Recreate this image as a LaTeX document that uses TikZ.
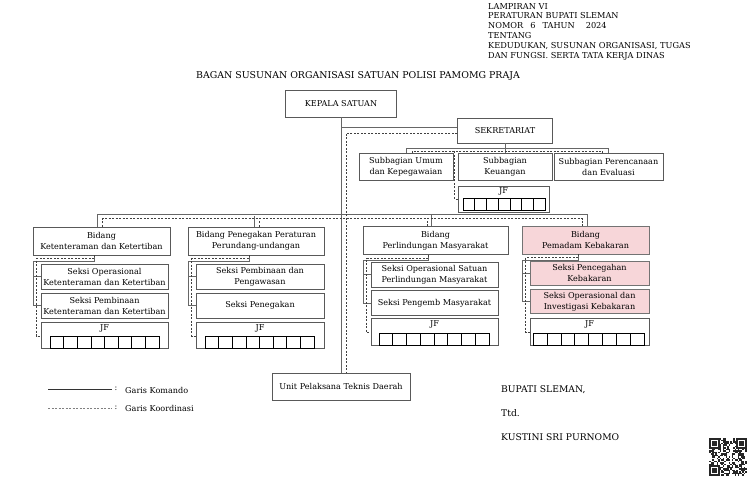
\documentclass[tikz,border=0pt]{standalone}
\usepackage{fontspec}
\setmainfont{DejaVu Serif}
\usetikzlibrary{calc}
\definecolor{pinkfill}{HTML}{F7D6D9}

\begin{document}
\begin{tikzpicture}[
        x=1pt, y=-1pt,
        every node/.style={font=\fontsize{8.1}{11}\selectfont, inner sep=1pt},
        box/.style 2 args={draw=black!65, fill=white, align=center, line width=.7pt,
            minimum width=#1, minimum height=#2},
        pink/.style 2 args={box={#1}{#2}, fill=pinkfill, draw=black!55},
        komando/.style={draw=black!60, line width=.8pt},
        koordinasi/.style={draw=black!75, dash pattern=on 2pt off 1.5pt, line width=.5pt},
        cell/.style={draw=black, line width=.6pt},
        ttdtext/.style={anchor=west, font=\fontsize{9.2}{11}\selectfont},
    ]
    \useasboundingbox (0,0) rectangle (756,487);

    % header
    \node[anchor=north west, align=left, font=\fontsize{8.2}{9.8}\selectfont] (lampiran) at (487,2)
        {LAMPIRAN VI\\PERATURAN BUPATI SLEMAN\\NOMOR\hspace{7pt}6\hspace{7pt}TAHUN\hspace{11pt}2024\\TENTANG\\
         KEDUDUKAN, SUSUNAN ORGANISASI, TUGAS\\DAN FUNGSI. SERTA TATA KERJA DINAS};
    \node[font=\fontsize{9.4}{10}\selectfont] (judul) at (358,76)
        {BAGAN SUSUNAN ORGANISASI SATUAN POLISI PAMOMG PRAJA};

    % top
    \node[box={111pt}{27pt}] (kepala) at (341,103.5) {KEPALA SATUAN};
    \node[box={95pt}{25pt}] (sekre) at (505,130.5) {SEKRETARIAT};
    \node[box={94pt}{27pt}] (sumum) at (406,166.5) {Subbagian Umum\\dan Kepegawaian};
    \node[box={94pt}{27pt}] (skeu) at (505,166.5) {Subbagian\\Keuangan};
    \node[box={109pt}{27pt}] (sren) at (608.5,166.5) {Subbagian Perencanaan\\dan Evaluasi};
    \node[box={91pt}{26pt}] (jfsek) at (503.5,199) {};
    \node (jfseklbl) at ($(jfsek.north)+(0,6)$) {JF};

    % bidang
    \node[box={137pt}{28pt}] (bid1) at (101.5,241) {Bidang\\Ketenteraman dan Ketertiban};
    \node[box={136pt}{28pt}] (bid2) at (256,241) {Bidang Penegakan Peraturan\\Perundang-undangan};
    \node[box={145pt}{28pt}] (bid3) at (435.5,240.5) {Bidang\\Perlindungan Masyarakat};
    \node[pink={127pt}{28pt}] (bid4) at (585.5,240) {Bidang\\Pemadam Kebakaran};

    % seksi
    \node[box={127pt}{25pt}] (s11) at (104.5,276.5) {Seksi Operasional\\Ketenteraman dan Ketertiban};
    \node[box={127pt}{25pt}] (s12) at (104.5,305.5) {Seksi Pembinaan\\Ketenteraman dan Ketertiban};
    \node[box={127pt}{26pt}] (jf1) at (104.5,335) {};
    \node[box={128pt}{25pt}] (s21) at (260,276.5) {Seksi Pembinaan dan\\Pengawasan};
    \node[box={128pt}{25pt}] (s22) at (260,305.5) {Seksi Penegakan};
    \node[box={128pt}{26pt}] (jf2) at (260,335) {};
    \node[box={127pt}{25pt}] (s31) at (434.5,274.5) {Seksi Operasional Satuan\\Perlindungan Masyarakat};
    \node[box={127pt}{25pt}] (s32) at (434.5,303) {Seksi Pengemb Masyarakat};
    \node[box={127pt}{27pt}] (jf3) at (434.5,331.5) {};
    \node[pink={119pt}{24pt}] (s41) at (589.5,273) {Seksi Pencegahan\\Kebakaran};
    \node[pink={119pt}{24pt}] (s42) at (589.5,301.5) {Seksi Operasional dan\\Investigasi Kebakaran};
    \node[box={119pt}{27pt}] (jf4) at (589.5,331.5) {};
    \foreach \j in {jf1,jf2,jf3,jf4}
        \node (\j lbl) at ($(\j.north)+(0,6.5)$) {JF};

    % JF cells
    \foreach \cx/\cy/\cw/\n in {50/336/13.6/7, 205/336/13.6/7, 379/333/13.75/7,
                                533/333/13.9/7, 463/198/11.7/6}
        \foreach \i in {0,...,\n}
            \draw[cell] (\cx+\i*\cw,\cy) rectangle ++(\cw,12);

    \node[box={138pt}{27pt}] (upt) at (341,386.5) {Unit Pelaksana Teknis Daerah};

    % garis komando
    \coordinate (sekbus) at (0,127);
    \coordinate (sekdash) at (0,133);
    \coordinate (subbus) at (0,148);
    \coordinate (subdash) at (0,151);
    \draw[komando] (kepala.south) -- (upt.north);
    \draw[komando] (kepala.south |- sekbus) -- (sekre.west |- sekbus);
    \draw[komando] (sekre.south) -- (skeu.north);
    \draw[komando] (sumum.north) -- (sumum.north |- subbus) -- (sren.north |- subbus) -- (sren.north);
    \draw[komando] ($(bid1.north)+(-4,0)$) |- ($(bid4.north)+(2,-11)$) -- ($(bid4.north)+(2,0)$);
    \draw[komando] ($(bid2.north)+(-2,0)$) -- ++(0,-11);
    \draw[komando] ($(bid3.north)+(-4,0)$) -- ++(0,-11);

    % garis koordinasi
    \draw[koordinasi] (sekre.west |- sekdash) -| ($(upt.north)+(5,0)$);
    \draw[koordinasi] ($(sumum.north)+(6,0)$) |- ($(sren.north |- subdash)+(-6,0)$) -- ($(sren.north)+(-6,0)$);
    \draw[koordinasi] (jfsek.west) -| ($(jfsek.west |- subdash)+(-3,0)$);
    \draw[koordinasi] ($(bid1.north)+(1,0)$) |- ($(bid4.north)+(-3,-7)$) -- ($(bid4.north)+(-3,0)$);
    \draw[koordinasi] ($(bid2.north)+(3,0)$) -- ++(0,-7);
    \draw[koordinasi] ($(bid3.north)+(-8,0)$) -- ++(0,-7);

    % bidang ke seksi
    \foreach \b/\s/\t/\j in {bid1/s11/s12/jf1, bid2/s21/s22/jf2, bid3/s31/s32/jf3, bid4/s41/s42/jf4} {
        \draw[komando] ($(\b.south)+(-7,0)$) -- ++(0,6) -| ($(\t.west)+(-7,0)$) -- (\t.west);
        \draw[komando] ($(\s.west)+(-7,0)$) -- (\s.west);
        \draw[koordinasi] ($(\b.south)+(-7,0)$) -- ++(0,3) -| ($(\j.west)+(-4,1)$) -- ($(\j.west)+(0,1)$);
    }

    % legend
    \coordinate (kom0) at (48,389);
    \coordinate (kom1) at (112,389);
    \coordinate (koo0) at (48,408);
    \coordinate (koo1) at (112,408);
    \draw[komando, line width=.5pt, draw=black!80] (kom0) -- (kom1);
    \draw[koordinasi, draw=black!50] (koo0) -- (koo1);
    \node (komcol) at (116,389) {:};
    \node (koocol) at (116,408) {:};
    \node[anchor=west] (komtxt) at (124,390) {Garis Komando};
    \node[anchor=west] (kootxt) at (124,408) {Garis Koordinasi};

    % tanda tangan
    \node[ttdtext] (bupati) at (500,390) {BUPATI SLEMAN,};
    \node[ttdtext] (ttd) at (500,413) {Ttd.};
    \node[ttdtext] (nama) at (500,437) {KUSTINI SRI PURNOMO};

    % QR
    \pgfmathsetseed{42}
    \foreach \i in {0,...,24}
        \foreach \j in {0,...,24} {
            \pgfmathrandominteger{\qr}{0}{1}
            \ifnum\qr=1 \fill[black!85] (709+\i*1.5,438+\j*1.5) rectangle ++(1.5,1.5); \fi
        }
    \foreach \fx/\fy in {709/438, 736/438, 709/465} {
        \fill[white] (\fx-0.1,\fy-0.1) rectangle ++(11.2,11.2);
        \fill[black!85] (\fx,\fy) rectangle ++(10.5,10.5);
        \fill[white] (\fx+1.5,\fy+1.5) rectangle ++(7.5,7.5);
        \fill[black!85] (\fx+3,\fy+3) rectangle ++(4.5,4.5);
    }
\end{tikzpicture}
\end{document}
